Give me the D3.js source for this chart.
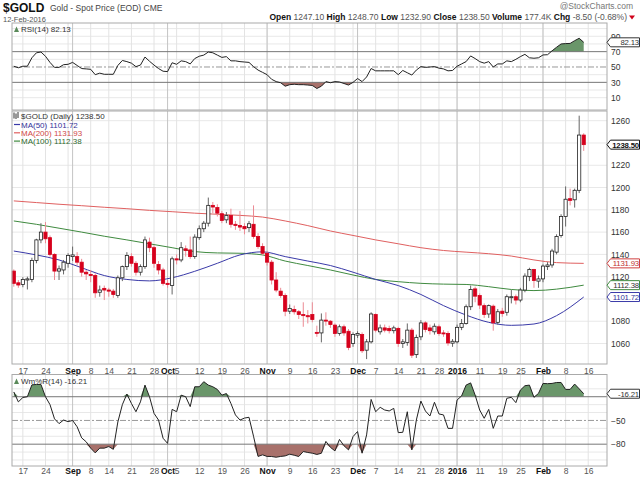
<!DOCTYPE html>
<html>
<head>
<meta charset="utf-8">
<script src="https://cdn.jsdelivr.net/npm/d3@7"></script>
<style>
  body { margin: 0; background: #fff; }
  svg { display: block; }
  text { font-family: 'Liberation Sans', Arial, sans-serif; }
</style>
</head>
<body>
<div id="chart"></div>
<script>
/* $GOLD daily candles with MA(50/100/200), RSI(14) and Williams %R(14) */

// ---- trading days (categories) ----
const aug15 = [13,14,17,18,19,20,21,24,25,26,27,28,31];
const sep15 = [1,2,3,4,8,9,10,11,14,15,16,17,18,21,22,23,24,25,28,29,30];
const oct15 = [1,2,5,6,7,8,9,12,13,14,15,16,19,20,21,22,23,26,27,28,29,30];
const nov15 = [2,3,4,5,6,9,10,11,12,13,16,17,18,19,20,23,24,25,27,30];
const dec15 = [1,2,3,4,7,8,9,10,11,14,15,16,17,18,21,22,23,24,28,29,30,31];
const jan16 = [4,5,6,7,8,11,12,13,14,15,19,20,21,22,25,26,27,28,29];
const feb16 = [1,2,3,4,5,8,9,10,11,12];
const futureDays = ["2016-02-16","2016-02-17","2016-02-18","2016-02-19"];

// ---- price series ----
const opens = [1125,1114.5,1113,1117,1117.5,1134.5,1153,1160,1155,1140,1125,1126,1132,1138,1138,1133,1124,1122,1121,1106,
  1109.5,1108,1107,1103,1119,1129,1138,1132,1124,1129,1151,1146,1131,1126,1114,1112,1136,1135,1145,1144,
  1138,1155,1163,1168,1184,1182,1176.5,1171,1175,1167,1166,1165,1164,1167,1156,1147,1141,1133,1117,1107,
  1103,1089,1090.5,1088.5,1086,1085,1086,1070,1069.5,1081,1080,1076.5,1069,1075,1071,1060,1067.5,1068,1054,1061.5,
  1086,1070.5,1074,1073.5,1071.5,1073.5,1060,1061,1072,1050,1066,1078.5,1074,1070.5,1075,1069.5,1069,1060.3,1061.5,1074.5,
  1078,1093,1109,1103,1094,1086.5,1093.5,1079,1089,1088,1101.5,1102,1099,1108,1120,1126.5,1116,1118,1129,1130.5,
  1142,1157,1174,1190,1189,1197.5,1247.1];
const highs = [1126.5,1117,1119.5,1120,1137,1154,1168,1169,1157,1141,1130,1135,1141,1147,1142,1136,1126,1126,1123,1112,
  1112,1110,1109,1121,1130,1142,1141,1134,1131,1156,1155,1148,1134,1128,1117,1138,1140,1151,1148,1156,
  1158,1166,1170,1191,1187,1185,1179,1178,1181,1170,1179,1168,1170,1184,1159,1150,1143,1135,1124,1110,
  1105,1095,1094,1090,1097,1090,1097,1076,1087,1088,1081,1078,1077,1077,1073,1070,1071,1070,1064,1088,
  1087,1077,1077,1076,1076,1075,1064,1078,1074,1068,1081,1080,1077,1078,1077,1072,1071,1064,1077,1082,
  1095,1112,1111,1105,1096,1095,1095,1091,1092,1104,1108,1104,1110,1123,1128,1127,1121,1131,1133,1145,
  1158,1176,1201,1199,1199,1264.5,1248.7];
const lows = [1111,1110,1110.5,1108.5,1115,1132,1150,1150,1138,1117,1117,1122,1128,1134,1130,1120,1117,1115,1101,1102,
  1099,1102,1101,1101,1116,1126,1129,1121,1121,1127,1142,1128,1122,1112,1110,1104,1131,1133,1138,1136,
  1136,1153,1160,1165,1177,1174,1168,1168,1164,1162,1161,1158,1160,1154,1145,1139,1130,1113,1106,1101,
  1084.5,1086.5,1086,1082,1075,1078,1079,1066,1061,1076,1074,1066,1067,1067,1054,1057,1065,1051.5,1046,1060,
  1070,1068,1070,1069,1069,1057,1056,1058,1047,1047,1063,1070,1068,1068,1067,1066,1058,1057,1060,1072,
  1077,1090,1097,1091,1083,1083,1071.5,1077,1084,1085,1096,1095,1097,1106,1116,1110,1110,1115,1126,1128,
  1140,1155,1165,1184,1182,1195,1232.9];
const closes = [1114,1112.5,1117.5,1118,1134.5,1153,1160,1154,1140,1125,1127,1133,1139,1139.5,1133,1124,1122.5,1121,1105.5,1108,
  1108,1107,1104,1119,1129,1139,1132,1124,1129,1153,1146,1132,1126,1114,1113,1136,1135,1146,1143.5,1138,
  1155.5,1163,1168,1184,1182.5,1177,1170.5,1175,1167,1166,1164.5,1163,1167.5,1156,1147,1141,1133,1117,1108,1103,
  1089,1091.5,1088.5,1086,1085,1084,1081.5,1069.5,1081,1080.5,1077,1069,1075,1069.5,1056.5,1068,1069,1053.5,1061.5,1086.5,
  1072,1074,1072,1071.5,1074,1060,1061.5,1072,1049.5,1065.5,1078.5,1072.5,1071.5,1075.5,1069,1069.3,1060.5,1062,1074.5,1078,
  1093,1108.5,1102.5,1094.5,1086,1094,1078.5,1088.5,1087,1102,1102,1099,1108,1120.5,1126.5,1116.5,1118,1129.5,1130.5,1143,
  1156,1174,1189.5,1188.5,1197.5,1247.1,1238.5];

// ---- moving averages, read every 5th session ----
const maIndex = [0,5,10,15,20,25,30,35,40,45,50,55,60,65,70,75,80,85,90,95,100,105,110,115,120,126];
const ma50  = [1143,1139.5,1135,1128,1121,1117.5,1116.2,1119,1124.8,1132,1139.5,1142.3,1138,1134,1130,1124,
  1117.5,1112,1104,1094,1085.5,1079,1076.3,1077.5,1085,1101.72];
const ma100 = [1170,1167,1163.5,1160,1156.3,1153,1149.5,1146,1142.5,1141.3,1141,1139.5,1134,1130,1126,1121.5,
  1117.5,1115.5,1114,1113.3,1113,1111,1108.5,1107.5,1108.8,1112.38];
const ma200 = [1188,1186.5,1185,1183.7,1182.3,1181,1179.5,1178.3,1177,1176,1175,1173.5,1170,1165.8,1161,1157,
  1153,1149.5,1146,1143.5,1142,1140.6,1138.5,1135,1132.6,1131.93];

// ---- indicators ----
const rsi = [51,49,51,51,62,68.5,69.5,64,56,49.5,49.5,53,53.5,56,52,48,47.5,47,40,42,
  40.5,40.5,40.5,52,58.5,57,55,50.5,52.5,63,57.5,52.5,48,44.5,44,55.5,53.5,58,57,54,
  61,64,65.5,69.5,68.5,65.5,62.5,63.5,58,58,57,56.5,56,50.5,46,43,40,34,31,29.5,
  25,27,27.5,27,27,26.5,26,22,25,31,29.5,31,30.5,28.5,26.5,30,35,31,37,48,
  45,45,45,45,45,40,45.5,42.5,39.5,46,50.5,49.5,50,50.5,48.5,47.5,45,45.5,51,54,
  57,64.4,61,57,55,57,50,54,54,58,57,60,63.5,66.5,62,61.4,62,65.7,66,71,
  75.7,80,80.5,80.7,84.3,87.4,82.13];
const willR = [-14,-26.5,-21,-20,-5,-4.5,-4.5,-20,-30,-48,-54,-49.5,-51.5,-50,-58,-72,-77,-85,-91,-85,
  -85,-83,-86.5,-52,-30,-16.6,-28.5,-39,-26.5,-5.3,-20,-41,-49.5,-72.5,-79,-36,-39,-18,-20,-32.5,
  -7.4,-7.4,-1,-5.3,-7.4,-10.8,-18,-16,-28.5,-43,-49.5,-47,-46,-70,-95.5,-93.5,-95.5,-95.6,-96.5,-95.5,
  -94.8,-92.7,-94,-95.6,-89.3,-90.5,-91.4,-93,-91.5,-76.5,-84,-88.5,-74,-82,-87.2,-70.4,-64,-91.4,-68.3,-23.4,
  -39,-33.4,-36.8,-38,-34.7,-65.4,-65,-39,-87.2,-49.4,-25.5,-38,-44.4,-27,-41.8,-43,-60,-60,-24.2,-19,
  -5.3,-2.5,-18,-36.8,-47.3,-36,-60,-44.4,-44.4,-22,-20.8,-27.5,-11.6,-6.1,-5.3,-20.8,-15.8,-3.2,-3.5,-3.2,
  -2,-2,-10.8,-10.8,-4,-10,-16.21];

// ---- axis labels ----
const tickDates = ["2015-08-17","2015-08-24","2015-09-01","2015-09-08","2015-09-14","2015-09-21","2015-09-28",
  "2015-10-01","2015-10-05","2015-10-12","2015-10-19","2015-10-26","2015-11-02","2015-11-09","2015-11-16",
  "2015-11-23","2015-12-01","2015-12-07","2015-12-14","2015-12-21","2015-12-28","2016-01-04","2016-01-11",
  "2016-01-19","2016-01-25","2016-02-01","2016-02-08","2016-02-16"];
const tickText = ["17","24","Sep","8","14","21","28","Oct","5","12","19","26","Nov","9","16",
  "23","Dec","7","14","21","28","2016","11","19","25","Feb","8","16"];
const priceGrid = [1060,1080,1100,1120,1140,1160,1180,1200,1220,1240,1260];
const priceTicks = [1060,1080,1120,1140,1160,1180,1200,1220,1260];   // 1100 and 1240 sit under the tags
const rsiTicks = [10,30,50,70,90];
const wrTicks = [-50,-80];                                             // -20 sits under the tag

// ---- layout ----
const W = 640, H = 477, L = 12, R = 607;
const fmt = d3.timeFormat("%Y-%m-%d");
const mk = (y, m, arr) => arr.map(d => fmt(new Date(y, m, d)));
const days = [].concat(mk(2015,7,aug15), mk(2015,8,sep15), mk(2015,9,oct15), mk(2015,10,nov15),
  mk(2015,11,dec15), mk(2016,0,jan16), mk(2016,1,feb16));
const axisDays = days.concat(futureDays);
const dIdx = s => axisDays.indexOf(s);

const candles = days.map((d, i) => ({i, o: opens[i], h: highs[i], l: lows[i], c: closes[i]}));

// weekly and monthly grid positions from the calendar
const parse = d3.timeParse("%Y-%m-%d");
const weekIdx = [], monthIdx = [];
axisDays.forEach((s, i) => {
  if (i === 0) return;
  const a = parse(axisDays[i - 1]), b = parse(s);
  if (+d3.timeMonday.floor(a) !== +d3.timeMonday.floor(b)) weekIdx.push(i);
  if (a.getMonth() !== b.getMonth()) monthIdx.push(i);
});

const x = d3.scaleLinear().domain([-0.4, 131.15]).range([L, R]);

const svg = d3.select("#chart").append("svg").attr("width", W).attr("height", H)
  .attr("viewBox", `0 0 ${W} ${H}`);

// ---- header ----
const hdr = svg.append("g");
hdr.append("text").attr("x", 3).attr("y", 11.5).attr("font-size", 12).attr("font-weight", "bold")
  .attr("fill", "#111").text("$GOLD");
hdr.append("text").attr("x", 50).attr("y", 11).attr("font-size", 8.5).attr("fill", "#444")
  .text("Gold - Spot Price (EOD) CME");
hdr.append("text").attr("x", 3).attr("y", 21.5).attr("font-size", 7.5).attr("fill", "#555").text("12-Feb-2016");
hdr.append("text").attr("x", 633).attr("y", 9).attr("text-anchor", "end").attr("font-size", 8.5)
  .attr("fill", "#777").text("@StockCharts.com");
const quote = [["Open", "1247.10"], ["High", "1248.70"], ["Low", "1232.90"], ["Close", "1238.50"],
  ["Volume", "177.4K"], ["Chg", "-8.50 (-0.68%)"]];
const qt = hdr.append("text").attr("x", 627).attr("y", 20).attr("text-anchor", "end").attr("font-size", 8.5);
quote.forEach(([k, v], j) => {
  qt.append("tspan").attr("font-weight", "bold").attr("fill", "#111").text((j ? " " : "") + k + " ");
  qt.append("tspan").attr("fill", "#555").text(v);
});
hdr.append("path").attr("d", "M629,15.5 L635,15.5 L632,19.5 Z").attr("fill", "#d0021b");

// ---- panel helpers ----
function panel(top, bottom, y, hTicks) {
  const g = svg.append("g");
  g.selectAll(".hg").data(hTicks).join("line")
    .attr("x1", L).attr("x2", R).attr("y1", d => y(d)).attr("y2", d => y(d))
    .attr("stroke", "#e8e8e8");
  g.selectAll(".wk").data(weekIdx).join("line")
    .attr("x1", d => x(d)).attr("x2", d => x(d)).attr("y1", top).attr("y2", bottom)
    .attr("stroke", "#e3e3e3");
  g.selectAll(".mo").data(monthIdx).join("line")
    .attr("x1", d => x(d)).attr("x2", d => x(d)).attr("y1", top).attr("y2", bottom)
    .attr("stroke", "#c4c4c4");
  return g;
}
function frame(top, bottom) {
  svg.append("rect").attr("x", L).attr("y", top).attr("width", R - L).attr("height", bottom - top)
    .attr("fill", "none").attr("stroke", "#aaa");
}
function tag(yPos, label, color, textColor, bold) {
  const g = svg.append("g");
  g.append("path")
    .attr("d", `M${R},${yPos} L${R + 3.5},${yPos - 4.5} L639.5,${yPos - 4.5} L639.5,${yPos + 4.5} L${R + 3.5},${yPos + 4.5} Z`)
    .attr("fill", "#fff").attr("stroke", color);
  g.append("text").attr("x", 639).attr("y", yPos + 3).attr("text-anchor", "end")
    .attr("font-size", 7.8).attr("letter-spacing", -0.2)
    .attr("font-weight", bold ? "bold" : "normal").attr("fill", textColor).text(label);
}
function yLabels(y, vals, fmtFn) {
  svg.append("g").attr("transform", `translate(${R},0)`)
    .call(d3.axisRight(y).tickValues(vals).tickSize(0).tickPadding(4).tickFormat(fmtFn))
    .call(g => g.select(".domain").remove())
    .call(g => g.selectAll("text").attr("font-size", 8.5).attr("fill", "#333")
      .attr("font-family", "'Liberation Sans', Arial, sans-serif"));
}
function xLabels(yPos) {
  const isName = j => isNaN(+tickText[j]) || tickText[j] === "2016";
  const ax = svg.append("g").attr("transform", `translate(0,${yPos})`)
    .call(d3.axisBottom(x).tickValues(tickDates.map(dIdx)).tickSize(0).tickPadding(0)
      .tickFormat((d, j) => tickText[j]));
  ax.select(".domain").remove();
  ax.selectAll("text").attr("font-size", 8.5).attr("dy", 0)
    .attr("font-family", "'Liberation Sans', Arial, sans-serif")
    .attr("font-weight", (d, j) => isName(j) ? "bold" : "normal")
    .attr("fill", (d, j) => isName(j) ? "#111" : "#555");
}

// ================= RSI panel =================
const rT = 23, rB = 110;
const yR = d3.scaleLinear().domain([-6, 107.3]).range([rB, rT]);
panel(rT, rB, yR, [10, 20, 40, 60, 80, 90, 100]);
const rg = svg.append("g");
rg.append("path").datum(rsi)
  .attr("d", d3.area().x((d, i) => x(i)).y0(yR(70)).y1(d => yR(Math.max(d, 70))))
  .attr("fill", "#6a966a");
rg.append("path").datum(rsi)
  .attr("d", d3.area().x((d, i) => x(i)).y0(yR(30)).y1(d => yR(Math.min(d, 30))))
  .attr("fill", "#a8716b");
[70, 30].forEach(v => rg.append("line").attr("x1", L).attr("x2", R).attr("y1", yR(v)).attr("y2", yR(v))
  .attr("stroke", "#777"));
rg.append("line").attr("x1", L).attr("x2", R).attr("y1", yR(50)).attr("y2", yR(50))
  .attr("stroke", "#999").attr("stroke-dasharray", "6,2,2,2");
rg.append("path").datum(rsi).attr("d", d3.line().x((d, i) => x(i)).y(d => yR(d)))
  .attr("fill", "none").attr("stroke", "#222").attr("stroke-width", 1);
frame(rT, rB);
yLabels(yR, rsiTicks, d3.format("d"));
tag(yR(82.13), "82.13", "#333", "#333", false);
rg.append("path").attr("d", "M14,32 L16.5,26.5 L19,32 Z").attr("fill", "#5a8a5a");
rg.append("text").attr("x", 21).attr("y", 32).attr("font-size", 8)
  .attr("font-family", "'DejaVu Sans Mono', monospace").attr("fill", "#333").text("RSI(14) 82.13");

// ================= price panel =================
const pT = 111, pB = 364;
const y = d3.scaleLinear().domain([1041.6, 1268.7]).range([pB, pT]);
panel(pT, pB, y, priceGrid);
const pg = svg.append("g");
const maLine = d3.line().x((d, j) => x(maIndex[j])).y(d => y(d)).curve(d3.curveMonotoneX);
pg.append("path").datum(ma200).attr("d", maLine).attr("fill", "none").attr("stroke", "#e06060").attr("stroke-width", 1);
pg.append("path").datum(ma100).attr("d", maLine).attr("fill", "none").attr("stroke", "#3f8a3f").attr("stroke-width", 1);
pg.append("path").datum(ma50).attr("d", maLine).attr("fill", "none").attr("stroke", "#3a3aa8").attr("stroke-width", 1);

const up = d => d.c >= d.o;
pg.selectAll(".wick").data(candles).join("line")
  .attr("x1", d => x(d.i)).attr("x2", d => x(d.i)).attr("y1", d => y(d.h)).attr("y2", d => y(d.l))
  .attr("stroke", d => up(d) ? "#666" : "#ec8a94").attr("stroke-width", 1);
pg.selectAll(".body").data(candles).join("rect")
  .attr("x", d => x(d.i) - 1.6).attr("width", 3.2)
  .attr("y", d => y(Math.max(d.o, d.c)))
  .attr("height", d => Math.max(1, Math.abs(y(d.o) - y(d.c))))
  .attr("fill", d => up(d) ? "#fff" : "#d6001c")
  .attr("stroke", d => up(d) ? "#222" : "#d6001c").attr("stroke-width", 0.8);
frame(pT, pB);
yLabels(y, priceTicks, d3.format("d"));
tag(y(1131.93), "1131.93", "#d04040", "#c03030", false);
tag(y(1112.38), "1112.38", "#3f8a3f", "#333", false);
tag(y(1101.72), "1101.72", "#3a3aa8", "#333399", false);
tag(y(1238.5), "1238.50", "#111", "#111", true);

const leg = svg.append("g");
leg.append("path").attr("d", "M14,112.5 L14,118.5 M16,113.5 L16,119 M18,112 L18,118").attr("stroke", "#333");
leg.append("text").attr("x", 21).attr("y", 119).attr("font-size", 8)
  .attr("font-family", "'DejaVu Sans Mono', monospace").attr("fill", "#333").text("$GOLD (Daily) 1238.50");
[["MA(50) 1101.72", "#3a3aa8", "#33339a"], ["MA(200) 1131.93", "#e06060", "#d04848"],
 ["MA(100) 1112.38", "#3f8a3f", "#2f6a2f"]].forEach(([t, c, tc], j) => {
  const yy = 127.5 + j * 8.3;
  leg.append("line").attr("x1", 14).attr("x2", 20).attr("y1", yy - 3).attr("y2", yy - 3).attr("stroke", c).attr("stroke-width", 1.2);
  leg.append("text").attr("x", 21).attr("y", yy).attr("font-size", 8).attr("fill", tc).text(t);
});
xLabels(373.5);

// ================= Williams %R panel =================
const wT = 374.5, wB = 466;
const yW = d3.scaleLinear().domain([-107.6, 8.1]).range([wB, wT]);
panel(wT, wB, yW, [-10, -30, -40, -60, -70, -90, -100]);
const wg = svg.append("g");
wg.append("path").datum(willR)
  .attr("d", d3.area().x((d, i) => x(i)).y0(yW(-20)).y1(d => yW(Math.max(d, -20))))
  .attr("fill", "#6a966a");
wg.append("path").datum(willR)
  .attr("d", d3.area().x((d, i) => x(i)).y0(yW(-80)).y1(d => yW(Math.min(d, -80))))
  .attr("fill", "#a8716b");
[-20, -80].forEach(v => wg.append("line").attr("x1", L).attr("x2", R).attr("y1", yW(v)).attr("y2", yW(v))
  .attr("stroke", "#777"));
wg.append("line").attr("x1", L).attr("x2", R).attr("y1", yW(-50)).attr("y2", yW(-50))
  .attr("stroke", "#999").attr("stroke-dasharray", "6,2,2,2");
wg.append("path").datum(willR).attr("d", d3.line().x((d, i) => x(i)).y(d => yW(d)))
  .attr("fill", "none").attr("stroke", "#222").attr("stroke-width", 1);
frame(wT, wB);
yLabels(yW, wrTicks, d3.format("d"));
tag(yW(-16.21), "-16.21", "#333", "#333", false);
wg.append("path").attr("d", "M14,384 L16.5,378.5 L19,384 Z").attr("fill", "#5a8a5a");
wg.append("text").attr("x", 21).attr("y", 384).attr("font-size", 8)
  .attr("font-family", "'DejaVu Sans Mono', monospace").attr("fill", "#333").text("Wm%R(14) -16.21");
xLabels(474);
</script>
</body>
</html>
